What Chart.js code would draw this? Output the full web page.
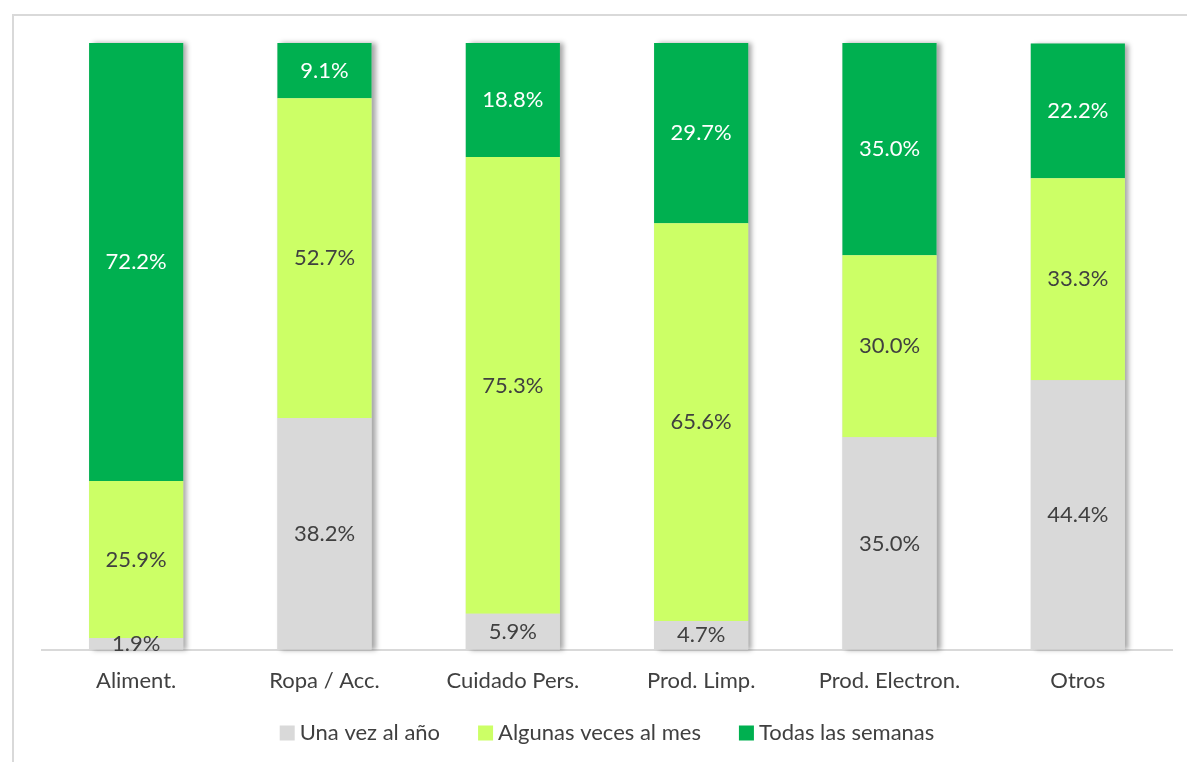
<!DOCTYPE html>
<html>
<head>
<meta charset="utf-8">
<script src="https://cdn.jsdelivr.net/npm/chart.js@4"></script>
<style>
  html, body { margin: 0; padding: 0; background: #fff; }
  #wrap { width: 1187px; height: 762px; position: relative; }
</style>
</head>
<body>
<div id="wrap"><canvas id="chart" width="1187" height="762"></canvas></div>
<script>
const categories = ['Aliment.', 'Ropa / Acc.', 'Cuidado Pers.', 'Prod. Limp.', 'Prod. Electron.', 'Otros'];
const unaVezAlAno = [1.9, 38.2, 5.9, 4.7, 35.0, 44.4];
const algunasVecesAlMes = [25.9, 52.7, 75.3, 65.6, 30.0, 33.3];
const todasLasSemanas = [72.2, 9.1, 18.8, 29.7, 35.0, 22.2];

const textColor = '#404040';
const fontFamily = 'Lato, "Open Sans", sans-serif';

// frame around the chart (left and top edges visible)
const framePlugin = {
    id: 'frame',
    beforeDraw(chart) {
        const ctx = chart.ctx;
        ctx.save();
        ctx.strokeStyle = '#D9D9D9';
        ctx.lineWidth = 2;
        ctx.strokeRect(13, 15, chart.width, chart.height);
        ctx.restore();
    }
};

// soft shadow to the right of each whole stacked bar, drawn underneath
// so the segments themselves join without seams
const shadowPlugin = {
    id: 'barShadow',
    beforeDatasetsDraw(chart) {
        const ctx = chart.ctx;
        const n = chart.data.labels.length;
        const last = chart.data.datasets.length - 1;
        ctx.save();
        ctx.shadowColor = 'rgba(0,0,0,0.35)';
        ctx.shadowBlur = 5;
        ctx.shadowOffsetX = 4;
        ctx.shadowOffsetY = 0;
        ctx.fillStyle = '#D9D9D9';
        for (let j = 0; j < n; j++) {
            const bottom = chart.getDatasetMeta(0).data[j];
            const top = chart.getDatasetMeta(last).data[j];
            ctx.fillRect(top.x - top.width / 2, top.y, top.width, bottom.base - top.y);
        }
        ctx.restore();
    }
};

// percentage labels centred in each segment
const valueLabels = {
    id: 'valueLabels',
    afterDatasetsDraw(chart) {
        const ctx = chart.ctx;
        ctx.save();
        ctx.font = '22px ' + fontFamily;
        ctx.textAlign = 'center';
        ctx.textBaseline = 'middle';
        chart.data.datasets.forEach((ds, i) => {
            const meta = chart.getDatasetMeta(i);
            meta.data.forEach((bar, j) => {
                const v = ds.data[j];
                ctx.fillStyle = i === 2 ? '#ffffff' : textColor;
                ctx.fillText(v.toFixed(1) + '%', bar.x, (bar.y + bar.base) / 2);
            });
        });
        ctx.restore();
    }
};

// compact legend under the axis: small square, tight gap, then the text
const bottomLegend = {
    id: 'bottomLegend',
    afterDraw(chart) {
        const ctx = chart.ctx;
        const box = 15, gap = 5, spacing = 38, y = 733;
        ctx.save();
        ctx.font = '22px ' + fontFamily;
        ctx.textBaseline = 'middle';
        const items = chart.data.datasets.map(ds => ({
            text: ds.label, color: ds.backgroundColor, w: ctx.measureText(ds.label).width
        }));
        let total = items.reduce((s, it) => s + box + gap + it.w, 0) + spacing * (items.length - 1);
        let x = (chart.chartArea.left + chart.chartArea.right) / 2 - total / 2;
        items.forEach(it => {
            ctx.fillStyle = it.color;
            ctx.fillRect(x, y - box / 2, box, box);
            ctx.fillStyle = textColor;
            ctx.fillText(it.text, x + box + gap, y);
            x += box + gap + it.w + spacing;
        });
        ctx.restore();
    }
};

let ctx = document.getElementById('chart').getContext('2d');
let myChart = new Chart(ctx, {
    type: 'bar',
    data: {
        labels: categories,
        datasets: [
            { label: 'Una vez al año', data: unaVezAlAno, backgroundColor: '#D9D9D9' },
            { label: 'Algunas veces al mes', data: algunasVecesAlMes, backgroundColor: '#CCFF66' },
            { label: 'Todas las semanas', data: todasLasSemanas, backgroundColor: '#00B050' }
        ]
    },
    options: {
        responsive: false,
        animation: false,
        layout: { padding: { left: 42, right: 15, top: 43, bottom: 50 } },
        datasets: {
            bar: { barPercentage: 0.5, categoryPercentage: 1.0 }
        },
        plugins: {
            legend: { display: false },
            tooltip: { enabled: false }
        },
        scales: {
            x: {
                stacked: true,
                grid: { display: false, drawTicks: false },
                border: { color: '#D9D9D9', width: 2 },
                ticks: { color: textColor, padding: 18, font: { family: fontFamily, size: 22 } }
            },
            y: {
                stacked: true,
                display: false,
                min: 0,
                max: 100
            }
        }
    },
    plugins: [framePlugin, shadowPlugin, valueLabels, bottomLegend]
});
</script>
</body>
</html>
